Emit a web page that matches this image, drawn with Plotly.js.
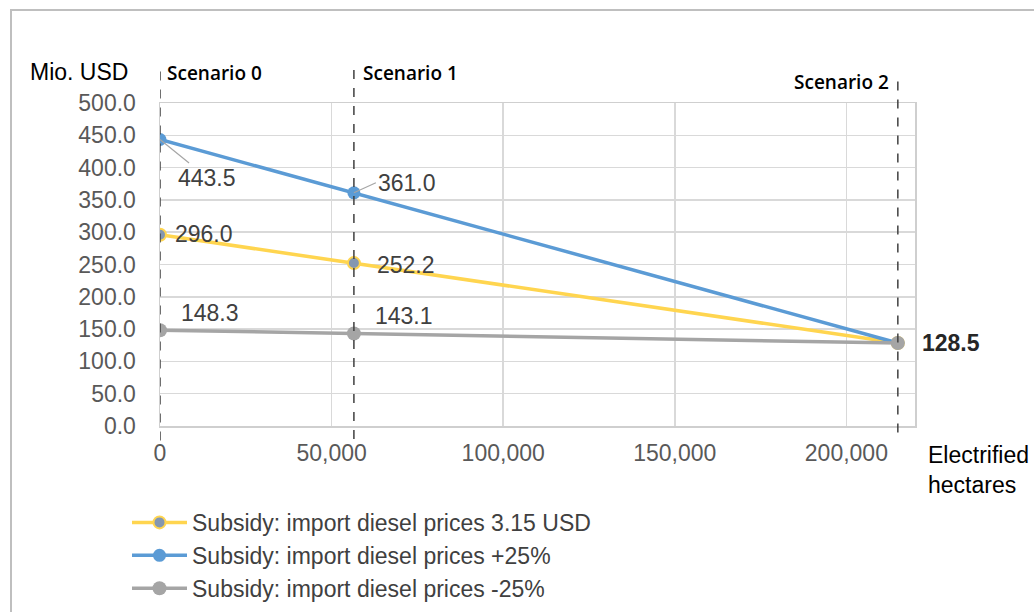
<!DOCTYPE html>
<html>
<head>
<meta charset="utf-8">
<script src="https://cdn.plot.ly/plotly-3.0.1.min.js"></script>
<style>html,body{margin:0;padding:0;background:#fff;}#chart{width:1034px;height:612px;}</style>
</head>
<body>
<div id="chart"></div>
<script>
// ---- data ----
const hectares = [0, 56500, 215000];
const scenarioNames = ["Scenario 0", "Scenario 1", "Scenario 2"];
const seriesNames = [
  "Subsidy: import diesel prices 3.15 USD",
  "Subsidy: import diesel prices +25%",
  "Subsidy: import diesel prices -25%"
];
const subsidyBase = [296.0, 252.2, 128.5];
const subsidyPlus25 = [443.5, 361.0, 128.5];
const subsidyMinus25 = [148.3, 143.1, 128.5];
const xTicks = [0, 50000, 100000, 150000, 200000];
const yTicks = [0, 50, 100, 150, 200, 250, 300, 350, 400, 450, 500];

const FONT = "'Liberation Sans', Arial, sans-serif";
const yellow = '#ffd54f', blue = '#5b9bd5', gray = '#a5a5a5';

const traces = [
  {x: hectares, y: subsidyBase, name: seriesNames[0], mode: 'lines+markers', legendgroup: 'a',
   line: {color: yellow, width: 3.5}, marker: {size: 12, color: '#8497b0', line: {color: yellow, width: 2}}},
  {x: hectares, y: subsidyPlus25, name: seriesNames[1], mode: 'lines+markers', legendgroup: 'b',
   line: {color: blue, width: 3.5}, marker: {size: 13, color: blue}},
  {x: hectares, y: subsidyMinus25, name: seriesNames[2], mode: 'lines+markers', legendgroup: 'c',
   line: {color: gray, width: 3.5}, marker: {size: 14, color: gray}}
];

const FS = 23;
const lblFont = {family: FONT, size: FS, color: '#404040'};
const scenFont = {family: "'Open Sans', sans-serif", size: 19, color: '#000', weight: 600};
const annotations = [
  {x: hectares[0], y: subsidyPlus25[0], text: subsidyPlus25[0].toFixed(1), showarrow: true, arrowhead: 0,
   arrowcolor: '#a6a6a6', arrowwidth: 1.2, ax: 47, ay: 38, xanchor: 'center', yanchor: 'middle', font: lblFont},
  {x: hectares[1], y: subsidyPlus25[1], text: subsidyPlus25[1].toFixed(1), showarrow: true, arrowhead: 0,
   arrowcolor: '#a6a6a6', arrowwidth: 1.2, ax: 22, ay: -10, xanchor: 'left', yanchor: 'middle', font: lblFont},
  {x: hectares[0], y: subsidyBase[0], text: subsidyBase[0].toFixed(1), showarrow: false, xanchor: 'left', xshift: 13, yshift: 1, font: lblFont},
  {x: hectares[1], y: subsidyBase[1], text: subsidyBase[1].toFixed(1), showarrow: false, xanchor: 'left', xshift: 21, yshift: -2, font: lblFont},
  {x: hectares[0], y: subsidyMinus25[0], text: subsidyMinus25[0].toFixed(1), showarrow: false, xanchor: 'left', xshift: 19, yshift: 17, font: lblFont},
  {x: hectares[1], y: subsidyMinus25[1], text: subsidyMinus25[1].toFixed(1), showarrow: false, xanchor: 'left', xshift: 19, yshift: 18, font: lblFont},
  {x: hectares[2], y: subsidyMinus25[2], text: '<b>' + subsidyMinus25[2].toFixed(1) + '</b>', showarrow: false, xanchor: 'left', xshift: 22, yshift: 0,
   font: {family: FONT, size: FS, color: '#262626'}},
  // scenario labels
  {x: hectares[0], y: 1.093, yref: 'paper', text: scenarioNames[0], showarrow: false, xanchor: 'left', yanchor: 'middle', xshift: 5, font: scenFont},
  {x: hectares[1], y: 1.093, yref: 'paper', text: scenarioNames[1], showarrow: false, xanchor: 'left', yanchor: 'middle', xshift: 7, font: scenFont},
  {x: hectares[2], y: 1.065, yref: 'paper', text: scenarioNames[2], showarrow: false, xanchor: 'right', yanchor: 'middle', xshift: -7, font: scenFont},
  // axis titles
  {x: -0.175, y: 1.096, xref: 'paper', yref: 'paper', text: 'Mio. USD', showarrow: false, xanchor: 'left', yanchor: 'middle',
   font: {family: FONT, size: FS, color: '#000'}},
  {x: 1.015, y: -0.136, xref: 'paper', yref: 'paper', text: 'Electrified<br>hectares', showarrow: false, xanchor: 'left', align: 'left',
   yanchor: 'middle', font: {family: FONT, size: FS, color: '#000'}}
];

const dash = {color: '#404040', width: 1.5, dash: 'dash'};
const shapes = [
  {type: 'line', xref: 'x', yref: 'paper', x0: hectares[0], x1: hectares[0], y0: -0.045, y1: 1.11, line: dash},
  {type: 'line', xref: 'x', yref: 'paper', x0: hectares[1], x1: hectares[1], y0: -0.04, y1: 1.115, line: dash},
  {type: 'line', xref: 'x', yref: 'paper', x0: hectares[2], x1: hectares[2], y0: -0.02, y1: 1.07, line: dash},
  // outer frame
  {type: 'rect', xref: 'paper', yref: 'paper', x0: (11 - 160) / 755, x1: 2, y0: (426 - 700) / 323, y1: (426 - 10) / 323,
   line: {color: '#bfbfbf', width: 2}, layer: 'below'}
];

const layout = {
  width: 1034, height: 612,
  margin: {l: 160, r: 119, t: 103, b: 186, autoexpand: false},
  paper_bgcolor: '#fff', plot_bgcolor: '#fff',
  font: {family: FONT, size: FS, color: '#595959'},
  showlegend: true,
  legend: {x: (127 - 160) / 755, xanchor: 'left', y: -0.232, yanchor: 'top', orientation: 'v', traceorder: 'grouped',
    tracegroupgap: 0, itemwidth: 55, font: {family: FONT, size: FS, color: '#404040'}, bgcolor: 'rgba(0,0,0,0)'},
  xaxis: {range: [0, 220000], tickvals: xTicks, ticktext: xTicks.map(v => v.toLocaleString('en-US')),
    showgrid: true, gridcolor: '#d9d9d9', gridwidth: 1.5, zeroline: false,
    showline: true, linecolor: '#cfcfcf', linewidth: 1.5, mirror: true, ticks: '', ticklabelstandoff: 6,
    tickfont: {family: FONT, size: FS, color: '#595959'}},
  yaxis: {range: [0, 500], tickvals: yTicks, ticktext: yTicks.map(v => v.toFixed(1)),
    showgrid: true, gridcolor: '#d9d9d9', gridwidth: 1.5, zeroline: false,
    showline: true, linecolor: '#cfcfcf', linewidth: 1.5, mirror: true, ticks: '', ticklabelstandoff: 18,
    tickfont: {family: FONT, size: FS, color: '#595959'}},
  annotations: annotations,
  shapes: shapes
};

Plotly.newPlot('chart', traces, layout, {displayModeBar: false, staticPlot: true});
</script>
</body>
</html>
